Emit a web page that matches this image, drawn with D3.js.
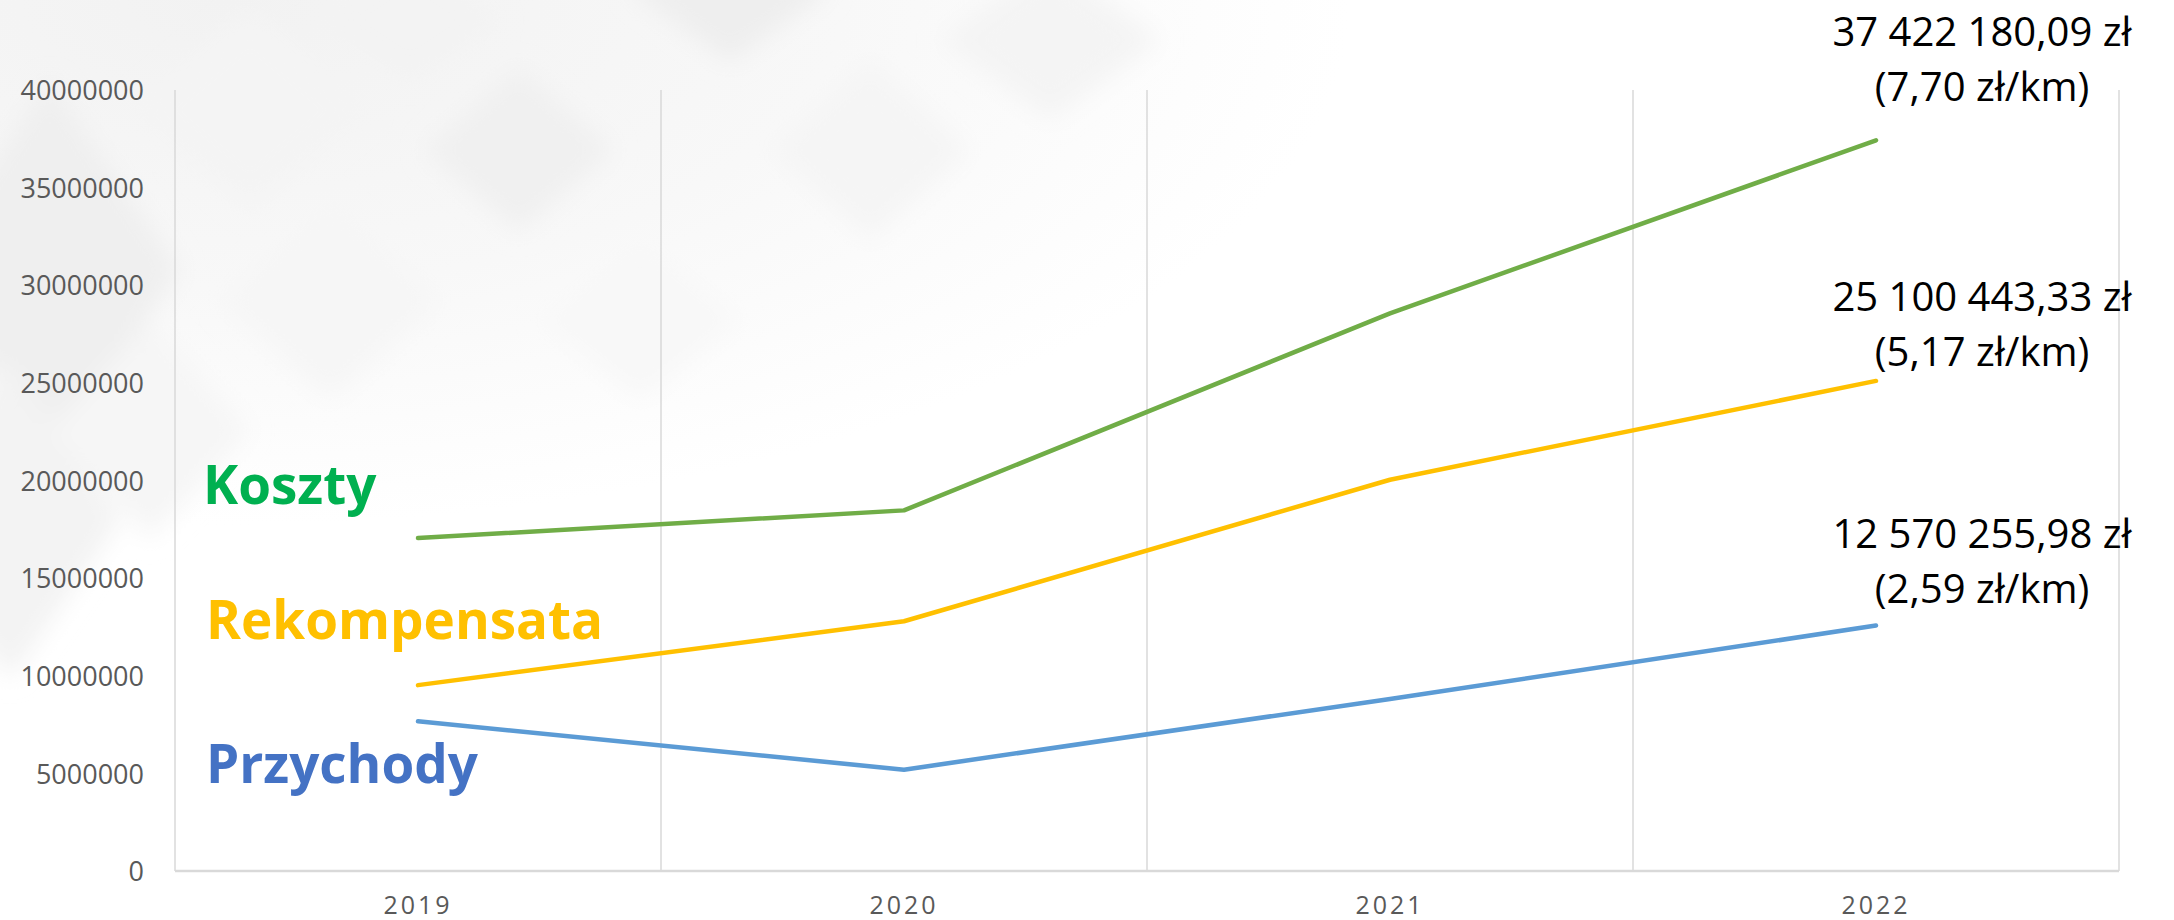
<!DOCTYPE html>
<html lang="pl">
  <head>
    <meta charset="UTF-8" />
    <script src="https://d3js.org/d3.v7.min.js"></script>
    <style>
      body {
        margin: 0;
        background: #ffffff;
      }
      svg {
        display: block;
        font-family: "Open Sans", sans-serif;
      }
    </style>
  </head>
  <body>
    <div id="chart"></div>
    <script>
      // Dane
      var years = ["2019", "2020", "2021", "2022"];
      var koszty = [17050000, 18470000, 28560000, 37422180.09];
      var rekompensata = [9520000, 12790000, 20040000, 25100443.33];
      var przychody = [7670000, 5190000, 8810000, 12570255.98];
      var yTicks = [0, 5000000, 10000000, 15000000, 20000000, 25000000, 30000000, 35000000, 40000000];

      var seriesNames = ["Koszty", "Rekompensata", "Przychody"];
      var seriesValues = [koszty, rekompensata, przychody];
      var endLabels = [
        ["37 422 180,09 zł", "(7,70 zł/km)"],
        ["25 100 443,33 zł", "(5,17 zł/km)"],
        ["12 570 255,98 zł", "(2,59 zł/km)"],
      ];

      // kolory i rozmieszczenie opisów
      var lineColors = ["#70ad47", "#ffc000", "#5b9bd5"];
      var nameColors = ["#00b050", "#ffc000", "#4472c4"];
      var namePos = [
        { x: 203, y: 504 },
        { x: 206, y: 639 },
        { x: 206, y: 783 },
      ];
      var endLabelDy = [-94, -70, -78];

      var width = 2174;
      var height = 920;
      var margin = { top: 90, right: 55, bottom: 49, left: 175 };

      var svg = d3
        .select("#chart")
        .append("svg")
        .attr("width", width)
        .attr("height", height);

      // --- tlo: delikatny wzor rombow ---
      var defs = svg.append("defs");
      defs
        .append("filter")
        .attr("id", "soft")
        .attr("x", "-50%")
        .attr("y", "-50%")
        .attr("width", "200%")
        .attr("height", "200%")
        .append("feGaussianBlur")
        .attr("stdDeviation", 12);

      var grad = defs
        .append("radialGradient")
        .attr("id", "haze")
        .attr("cx", 0.15)
        .attr("cy", 0.0)
        .attr("r", 0.75);
      grad.append("stop").attr("offset", "0%").attr("stop-color", "#f2f2f2");
      grad.append("stop").attr("offset", "55%").attr("stop-color", "#f8f8f8");
      grad.append("stop").attr("offset", "100%").attr("stop-color", "#ffffff");

      svg
        .append("rect")
        .attr("x", 0)
        .attr("y", 0)
        .attr("width", 1500)
        .attr("height", 700)
        .attr("fill", "url(#haze)");

      var bg = svg.append("g").attr("filter", "url(#soft)");
      var diamonds = [
        { cx: 50, cy: 270, w: 130, h: 190, c: "#efefef" },
        { cx: 10, cy: 520, w: 110, h: 160, c: "#f3f3f3" },
        { cx: 250, cy: 110, w: 120, h: 100, c: "#f4f4f4" },
        { cx: 519, cy: 150, w: 95, h: 82, c: "#f0f0f0" },
        { cx: 730, cy: -10, w: 100, h: 72, c: "#eeeeee" },
        { cx: 410, cy: 20, w: 90, h: 60, c: "#f3f3f3" },
        { cx: 870, cy: 150, w: 100, h: 90, c: "#f5f5f5" },
        { cx: 1050, cy: 40, w: 110, h: 80, c: "#f4f4f4" },
        { cx: 330, cy: 300, w: 110, h: 100, c: "#f6f6f6" },
        { cx: 640, cy: 320, w: 100, h: 80, c: "#f8f8f8" },
        { cx: 150, cy: 430, w: 100, h: 110, c: "#f6f6f6" },
      ];
      bg.selectAll("polygon")
        .data(diamonds)
        .enter()
        .append("polygon")
        .attr("points", function (d) {
          return [
            [d.cx, d.cy - d.h],
            [d.cx + d.w, d.cy],
            [d.cx, d.cy + d.h],
            [d.cx - d.w, d.cy],
          ].join(" ");
        })
        .attr("fill", function (d) {
          return d.c;
        });

      // --- skale ---
      var x = d3
        .scaleBand()
        .domain(years)
        .range([margin.left, width - margin.right])
        .padding(0);

      var y = d3
        .scaleLinear()
        .domain([0, 40000000])
        .range([height - margin.bottom, margin.top]);

      var gridColor = "#d9d9d9";

      // pionowe linie siatki na granicach kategorii
      var bounds = years.map(function (d) {
        return x(d);
      });
      bounds.push(x.range()[1]);
      svg
        .append("g")
        .selectAll("line")
        .data(bounds)
        .enter()
        .append("line")
        .attr("x1", function (d) {
          return d;
        })
        .attr("x2", function (d) {
          return d;
        })
        .attr("y1", y(40000000))
        .attr("y2", y(0))
        .attr("stroke", gridColor)
        .attr("stroke-width", 1.5);

      // os X (linia bazowa)
      svg
        .append("line")
        .attr("x1", x.range()[0])
        .attr("x2", x.range()[1])
        .attr("y1", y(0))
        .attr("y2", y(0))
        .attr("stroke", gridColor)
        .attr("stroke-width", 2.5);

      // etykiety osi Y
      var yAxis = svg
        .append("g")
        .attr("transform", "translate(" + (margin.left - 31) + ",0)")
        .call(
          d3
            .axisLeft(y)
            .tickValues(yTicks)
            .tickSize(0)
            .tickPadding(0)
            .tickFormat(d3.format("d"))
        );
      yAxis.select(".domain").remove();
      yAxis
        .selectAll("text")
        .attr("fill", "#595959")
        .style("font-family", "'Open Sans', sans-serif")
        .style("font-size", "27px")
        .attr("dy", "0.36em");

      // etykiety osi X
      var xAxis = svg
        .append("g")
        .attr("transform", "translate(0," + y(0) + ")")
        .call(d3.axisBottom(x).tickSize(0).tickPadding(0));
      xAxis.select(".domain").remove();
      xAxis
        .selectAll("text")
        .attr("fill", "#595959")
        .attr("y", 43)
        .attr("dy", 0)
        .style("font-family", "'Open Sans', sans-serif")
        .style("font-size", "25px")
        .style("letter-spacing", "3px");

      // linie serii
      var line = d3
        .line()
        .x(function (d, i) {
          return x(years[i]) + x.bandwidth() / 2;
        })
        .y(function (d) {
          return y(d);
        });

      svg
        .append("g")
        .selectAll("path")
        .data(seriesValues)
        .enter()
        .append("path")
        .attr("d", line)
        .attr("fill", "none")
        .attr("stroke", function (d, i) {
          return lineColors[i];
        })
        .attr("stroke-width", 4.5)
        .attr("stroke-linecap", "round")
        .attr("stroke-linejoin", "round");

      // nazwy serii
      svg
        .append("g")
        .selectAll("text")
        .data(seriesNames)
        .enter()
        .append("text")
        .attr("x", function (d, i) {
          return namePos[i].x;
        })
        .attr("y", function (d, i) {
          return namePos[i].y;
        })
        .attr("fill", function (d, i) {
          return nameColors[i];
        })
        .style("font-weight", "bold")
        .style("font-size", "53px")
        .text(function (d) {
          return d;
        });

      // opisy wartosci koncowych
      var last = years[years.length - 1];
      var endX = x(last) + x.bandwidth() / 2 + 106;
      var endGroups = svg
        .append("g")
        .selectAll("text")
        .data(endLabels)
        .enter()
        .append("text")
        .attr("text-anchor", "middle")
        .attr("fill", "#000000")
        .style("font-size", "40px")
        .attr("y", function (d, i) {
          var vals = seriesValues[i];
          return y(vals[vals.length - 1]) + endLabelDy[i];
        });

      endGroups
        .selectAll("tspan")
        .data(function (d) {
          return d;
        })
        .enter()
        .append("tspan")
        .attr("x", endX)
        .attr("dy", function (d, j) {
          return j === 0 ? 0 : 55;
        })
        .text(function (d) {
          return d;
        });
    </script>
  </body>
</html>
